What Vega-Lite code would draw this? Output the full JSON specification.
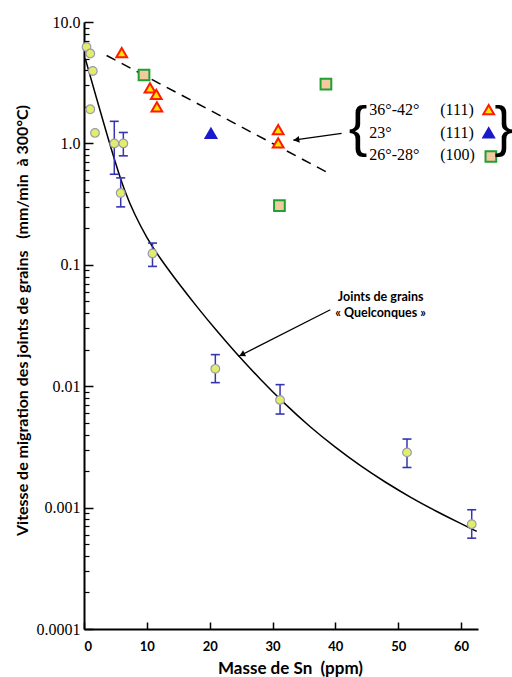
{
  "$schema": "https://vega.github.io/schema/vega-lite/v6.json",
  "width": 394,
  "height": 607,
  "autosize": "none",
  "padding": {"left": 84, "top": 22, "right": 34, "bottom": 48},
  "background": "white",
  "config": {"view": {"stroke": null}, "axis": {"grid": false}},
  "datasets": {
    "grains": [
      {"x": 0.4, "v": 6.23},
      {"x": 1.0, "v": 5.5},
      {"x": 1.4, "v": 3.95},
      {"x": 1.0, "v": 1.91},
      {"x": 1.75, "v": 1.22},
      {"x": 4.82, "v": 1.0, "lo": 0.557, "hi": 1.52},
      {"x": 6.26, "v": 1.0, "lo": 0.79, "hi": 1.23},
      {"x": 5.84, "v": 0.39, "lo": 0.30, "hi": 0.52},
      {"x": 10.9, "v": 0.124, "lo": 0.097, "hi": 0.151},
      {"x": 20.9, "v": 0.0139, "lo": 0.0107, "hi": 0.0182},
      {"x": 31.2, "v": 0.0077, "lo": 0.0059, "hi": 0.0103},
      {"x": 51.4, "v": 0.00285, "lo": 0.00214, "hi": 0.00367},
      {"x": 61.7, "v": 0.00073, "lo": 0.00056, "hi": 0.00096}
    ],
    "curve": [
      {"x": 0.2, "v": 5.01},
      {"x": 2, "v": 2.34},
      {"x": 3.5, "v": 1.26},
      {"x": 5, "v": 0.69},
      {"x": 6.5, "v": 0.398},
      {"x": 8, "v": 0.263},
      {"x": 10, "v": 0.166},
      {"x": 12, "v": 0.115},
      {"x": 15, "v": 0.0708},
      {"x": 18, "v": 0.0449},
      {"x": 21, "v": 0.029},
      {"x": 24, "v": 0.0192},
      {"x": 28, "v": 0.01146},
      {"x": 32, "v": 0.0071},
      {"x": 36, "v": 0.0046},
      {"x": 40, "v": 0.00313},
      {"x": 44, "v": 0.0022},
      {"x": 48, "v": 0.00161},
      {"x": 52, "v": 0.00121},
      {"x": 56, "v": 0.000935},
      {"x": 60, "v": 0.000736},
      {"x": 62.5, "v": 0.000637}
    ],
    "dash": [
      {"x": 3.6, "v": 5.3},
      {"x": 38.9, "v": 0.57}
    ],
    "orient": [
      {"g": "36-42", "x": 6.0, "v": 5.6},
      {"g": "36-42", "x": 10.5, "v": 2.87},
      {"g": "36-42", "x": 11.5, "v": 2.53},
      {"g": "36-42", "x": 11.6, "v": 2.0},
      {"g": "36-42", "x": 30.9, "v": 1.30},
      {"g": "36-42", "x": 30.9, "v": 1.01},
      {"g": "23", "x": 20.2, "v": 1.21},
      {"g": "26-28", "x": 9.55, "v": 3.66},
      {"g": "26-28", "x": 38.5, "v": 3.08},
      {"g": "26-28", "x": 31.1, "v": 0.307}
    ],
    "legendmarks": [
      {"g": "36-42", "x": 64.4, "v": 1.9},
      {"g": "23", "x": 64.4, "v": 1.22},
      {"g": "26-28", "x": 64.75, "v": 0.78}
    ],
    "legendtext": [
      {"angle": "36°-42°", "plane": "(111)", "v": 1.87},
      {"angle": "23°", "plane": "(111)", "v": 1.22},
      {"angle": "26°-28°", "plane": "(100)", "v": 0.80}
    ],
    "braces": [
      {"b": "{", "x": 43.6, "v": 1.34},
      {"b": "}", "x": 66.8, "v": 1.34}
    ],
    "arrows": [
      {"x": 41.0, "v": 1.21, "x2": 33.3, "v2": 1.064},
      {"x": 39.2, "v": 0.0426, "x2": 24.57, "v2": 0.01758}
    ],
    "head1": [{"x": 33.8, "v": 1.07}],
    "head2": [{"x": 25.14, "v": 0.0182}],
    "notes": [
      {"t": "Joints de grains", "x": 40.4, "v": 0.0547},
      {"t": "« Quelconques »", "x": 39.97, "v": 0.0402}
    ]
  },
  "layer": [
    {
      "data": {"name": "dash"},
      "mark": {"type": "line", "color": "black", "strokeWidth": 1.5, "strokeDash": [10, 7]},
      "encoding": {
        "x": {"field": "x", "type": "quantitative", "scale": {"domain": [0, 62.7], "nice": false, "zero": false},
          "axis": {"orient": "bottom", "ticks": false, "labels": false, "title": null, "domain": true, "domainColor": "black", "domainWidth": 2}},
        "y": {"field": "v", "type": "quantitative", "scale": {"type": "log", "domain": [0.0001, 10], "nice": false},
          "axis": {"orient": "left", "ticks": false, "labels": false, "title": null, "domain": true, "domainColor": "black", "domainWidth": 2}}
      }
    },
    {
      "data": {"name": "curve"},
      "mark": {"type": "line", "color": "black", "strokeWidth": 1.5, "interpolate": "basis"},
      "encoding": {
        "x": {"field": "x", "type": "quantitative", "scale": {"domain": [0, 62.7], "nice": false, "zero": false},
          "axis": {"orient": "bottom", "values": [0, 10, 20, 30, 40, 50, 60], "offset": -7, "tickSize": 7, "tickWidth": 1.5, "tickColor": "black",
            "domain": false, "labelPadding": 11, "labelFont": "Lato", "labelFontWeight": "bold",
            "labelFontSize": 13, "labelColor": "black", "title": "Masse de Sn \u00a0(ppm)", "titleFont": "Lato",
            "titleFontWeight": "bold", "titleFontSize": 17, "titleColor": "black", "titleX": 206, "titleY": 46,
            "titleBaseline": "middle"}},
        "y": {"field": "v", "type": "quantitative", "scale": {"type": "log", "domain": [0.0001, 10], "nice": false},
          "axis": {"orient": "left", "title": null, "labels": false, "offset": -5, "tickSize": 5, "tickWidth": 1.2, "tickColor": "black",
            "domain": false,
            "values": [0.0002, 0.0003, 0.0004, 0.0005, 0.0006, 0.0007, 0.0008, 0.0009,
              0.002, 0.003, 0.004, 0.005, 0.006, 0.007, 0.008, 0.009,
              0.02, 0.03, 0.04, 0.05, 0.06, 0.07, 0.08, 0.09,
              0.2, 0.3, 0.4, 0.5, 0.6, 0.7, 0.8, 0.9,
              2, 3, 4, 5, 6, 7, 8, 9]}}
      }
    },
    {
      "data": {"name": "grains"},
      "transform": [{"filter": "isValid(datum.lo)"}],
      "mark": {"type": "rule", "color": "#3535b0", "strokeWidth": 1.5},
      "encoding": {
        "x": {"field": "x", "type": "quantitative", "scale": {"domain": [0, 62.7], "nice": false, "zero": false}, "axis": null},
        "y": {"field": "lo", "type": "quantitative", "scale": {"type": "log", "domain": [0.0001, 10], "nice": false}, "axis": null},
        "y2": {"field": "hi"}
      }
    },
    {
      "data": {"name": "grains"},
      "transform": [{"filter": "isValid(datum.lo)"}],
      "mark": {"type": "tick", "orient": "horizontal", "color": "#3535b0", "size": 9, "thickness": 1.6, "opacity": 1},
      "encoding": {
        "x": {"field": "x", "type": "quantitative", "scale": {"domain": [0, 62.7], "nice": false, "zero": false}, "axis": null},
        "y": {"field": "hi", "type": "quantitative", "scale": {"type": "log", "domain": [0.0001, 10], "nice": false}, "axis": null}
      }
    },
    {
      "data": {"name": "grains"},
      "transform": [{"filter": "isValid(datum.lo)"}],
      "mark": {"type": "tick", "orient": "horizontal", "color": "#3535b0", "size": 9, "thickness": 1.6, "opacity": 1},
      "encoding": {
        "x": {"field": "x", "type": "quantitative", "scale": {"domain": [0, 62.7], "nice": false, "zero": false}, "axis": null},
        "y": {"field": "lo", "type": "quantitative", "scale": {"type": "log", "domain": [0.0001, 10], "nice": false}, "axis": null}
      }
    },
    {
      "data": {"name": "grains"},
      "mark": {"type": "point", "shape": "circle", "filled": true, "fill": "#e2ee6a", "stroke": "#9a9aae", "strokeWidth": 1.2, "size": 75, "opacity": 1},
      "encoding": {
        "x": {"field": "x", "type": "quantitative", "scale": {"domain": [0, 62.7], "nice": false, "zero": false}, "axis": null},
        "y": {"field": "v", "type": "quantitative", "scale": {"type": "log", "domain": [0.0001, 10], "nice": false},
          "axis": {"orient": "left", "values": [0.0001, 0.001, 0.01, 0.1, 1, 10],
            "labelExpr": "datum.value >= 1 ? format(datum.value, '.1f') : format(datum.value, '~g')",
            "offset": -9, "tickSize": 9, "tickWidth": 1.5, "tickColor": "black", "domain": false,
            "labelPadding": 4, "labelFont": "Liberation Serif", "labelFontSize": 16, "labelColor": "black",
            "title": "Vitesse de migration des joints de grains \u00a0 (mm/min \u00a0à 300°C)",
            "titleFont": "Lato", "titleFontWeight": "bold", "titleFontSize": 16, "titleColor": "black",
            "titleX": -71, "titleY": 298, "titleBaseline": "middle", "titleAngle": 270}}
      }
    },
    {
      "data": {"name": "orient"},
      "mark": {"type": "point", "filled": true, "strokeWidth": 2, "size": 115, "opacity": 1},
      "encoding": {
        "x": {"field": "x", "type": "quantitative", "scale": {"domain": [0, 62.7], "nice": false, "zero": false}, "axis": null},
        "y": {"field": "v", "type": "quantitative", "scale": {"type": "log", "domain": [0.0001, 10], "nice": false}, "axis": null},
        "shape": {"field": "g", "type": "nominal", "scale": {"domain": ["36-42", "23", "26-28"], "range": ["triangle-up", "triangle-up", "square"]}, "legend": null},
        "fill": {"field": "g", "type": "nominal", "scale": {"domain": ["36-42", "23", "26-28"], "range": ["#ffe600", "#1a1acc", "#f3c9a0"]}, "legend": null},
        "stroke": {"field": "g", "type": "nominal", "scale": {"domain": ["36-42", "23", "26-28"], "range": ["#ff1a00", "#1a1acc", "#20a030"]}, "legend": null}
      }
    },
    {
      "data": {"name": "legendmarks"},
      "mark": {"type": "point", "filled": true, "strokeWidth": 2, "size": 115, "opacity": 1},
      "encoding": {
        "x": {"field": "x", "type": "quantitative", "scale": {"domain": [0, 62.7], "nice": false, "zero": false}, "axis": null},
        "y": {"field": "v", "type": "quantitative", "scale": {"type": "log", "domain": [0.0001, 10], "nice": false}, "axis": null},
        "shape": {"field": "g", "type": "nominal", "legend": null},
        "fill": {"field": "g", "type": "nominal", "legend": null},
        "stroke": {"field": "g", "type": "nominal", "legend": null}
      }
    },
    {
      "data": {"name": "legendtext"},
      "mark": {"type": "text", "align": "left", "baseline": "middle", "font": "Liberation Serif", "fontSize": 16, "color": "black"},
      "encoding": {
        "x": {"datum": 45.4, "type": "quantitative", "scale": {"domain": [0, 62.7], "nice": false, "zero": false}, "axis": null},
        "y": {"field": "v", "type": "quantitative", "scale": {"type": "log", "domain": [0.0001, 10], "nice": false}, "axis": null},
        "text": {"field": "angle"}
      }
    },
    {
      "data": {"name": "legendtext"},
      "mark": {"type": "text", "align": "left", "baseline": "middle", "font": "Liberation Serif", "fontSize": 16, "color": "black"},
      "encoding": {
        "x": {"datum": 56.7, "type": "quantitative", "scale": {"domain": [0, 62.7], "nice": false, "zero": false}, "axis": null},
        "y": {"field": "v", "type": "quantitative", "scale": {"type": "log", "domain": [0.0001, 10], "nice": false}, "axis": null},
        "text": {"field": "plane"}
      }
    },
    {
      "data": {"name": "braces"},
      "mark": {"type": "text", "align": "center", "baseline": "middle", "font": "Liberation Sans", "fontSize": 56, "color": "black"},
      "encoding": {
        "x": {"field": "x", "type": "quantitative", "scale": {"domain": [0, 62.7], "nice": false, "zero": false}, "axis": null},
        "y": {"field": "v", "type": "quantitative", "scale": {"type": "log", "domain": [0.0001, 10], "nice": false}, "axis": null},
        "text": {"field": "b"}
      }
    },
    {
      "data": {"name": "arrows"},
      "mark": {"type": "rule", "color": "black", "strokeWidth": 1.3},
      "encoding": {
        "x": {"field": "x", "type": "quantitative", "scale": {"domain": [0, 62.7], "nice": false, "zero": false}, "axis": null},
        "y": {"field": "v", "type": "quantitative", "scale": {"type": "log", "domain": [0.0001, 10], "nice": false}, "axis": null},
        "x2": {"field": "x2"},
        "y2": {"field": "v2"}
      }
    },
    {
      "data": {"name": "head1"},
      "mark": {"type": "point", "shape": "triangle-left", "filled": true, "color": "black", "size": 45, "angle": 352, "opacity": 1},
      "encoding": {
        "x": {"field": "x", "type": "quantitative", "scale": {"domain": [0, 62.7], "nice": false, "zero": false}, "axis": null},
        "y": {"field": "v", "type": "quantitative", "scale": {"type": "log", "domain": [0.0001, 10], "nice": false}, "axis": null}
      }
    },
    {
      "data": {"name": "head2"},
      "mark": {"type": "point", "shape": "triangle-left", "filled": true, "color": "black", "size": 45, "angle": 333, "opacity": 1},
      "encoding": {
        "x": {"field": "x", "type": "quantitative", "scale": {"domain": [0, 62.7], "nice": false, "zero": false}, "axis": null},
        "y": {"field": "v", "type": "quantitative", "scale": {"type": "log", "domain": [0.0001, 10], "nice": false}, "axis": null}
      }
    },
    {
      "data": {"name": "notes"},
      "mark": {"type": "text", "align": "left", "baseline": "middle", "font": "Lato", "fontWeight": "bold", "fontSize": 12.5, "color": "black"},
      "encoding": {
        "x": {"field": "x", "type": "quantitative", "scale": {"domain": [0, 62.7], "nice": false, "zero": false}, "axis": null},
        "y": {"field": "v", "type": "quantitative", "scale": {"type": "log", "domain": [0.0001, 10], "nice": false}, "axis": null},
        "text": {"field": "t"}
      }
    }
  ],
  "resolve": {"axis": {"x": "independent", "y": "independent"}}
}
